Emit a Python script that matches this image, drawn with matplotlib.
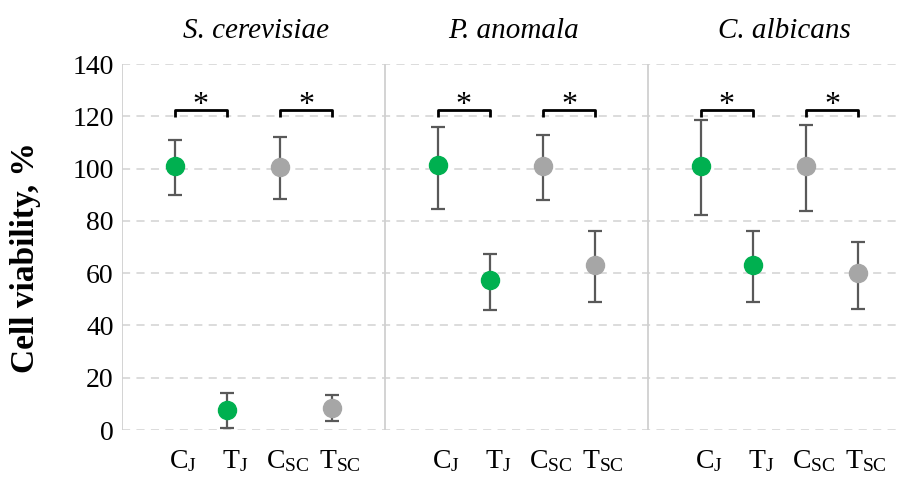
import matplotlib
matplotlib.use("Agg")
import matplotlib.pyplot as plt
import matplotlib.transforms as mtransforms
import numpy as np

plt.rcParams['font.family'] = ['Liberation Serif', 'DejaVu Serif']
plt.rcParams['mathtext.fontset'] = 'custom'
plt.rcParams['mathtext.rm'] = 'Liberation Serif'
plt.rcParams['mathtext.it'] = 'Liberation Serif:italic'

# ---- data ----
species = ["S. cerevisiae", "P. anomala", "C. albicans"]
categories = [r"$\mathrm{C_J}$", r"$\mathrm{T_J}$", r"$\mathrm{C_{SC}}$", r"$\mathrm{T_{SC}}$"]
# mean values per species: C_J, T_J, C_SC, T_SC
means = [
    [100.8, 7.6, 100.7, 8.4],
    [101.3, 57.4, 100.8, 63.1],
    [101.0, 63.0, 100.8, 60.2],
]
upper = [
    [110.8, 14.0, 112.2, 13.5],
    [116.0, 67.4, 112.9, 76.2],
    [118.5, 76.2, 116.8, 72.0],
]
lower = [
    [89.7, 0.8, 88.5, 3.6],
    [84.6, 45.9, 87.8, 49.1],
    [82.2, 49.1, 83.9, 46.2],
]
colors = ["#00b050", "#00b050", "#a6a6a6", "#a6a6a6"]
bracket_level = 122.5
bracket_leg = 119.6
star_level = 118.4

fig = plt.figure(figsize=(9.02, 4.82), dpi=100)
ax = fig.add_axes([122/902, 52/482, 780/902, 366/482])

panel_w = 5
title_pos = [2.55, 2.45, 2.6]
ax.set_xlim(0, 14.83)
ax.set_ylim(0, 140)

# gridlines
for yv in range(0, 141, 20):
    ax.axhline(yv, color="#d9d9d9", lw=1.3, ls=(0, (4.5, 3.5)), zorder=0)

for s in ax.spines.values():
    s.set_visible(False)
# left axis and separators
for k in range(3):
    ax.axvline(k * panel_w, color="#d0d0d0", lw=1.3, zorder=0.5)

xticks = []
xlabels = []
for k, sp in enumerate(species):
    base = k * panel_w
    xs = base + np.arange(1, 5)
    for i in range(4):
        m = means[k][i]
        ax.errorbar(xs[i], m, yerr=[[m - lower[k][i]], [upper[k][i] - m]],
                    fmt='none', ecolor="#595959", elinewidth=1.6, capsize=5,
                    capthick=1.6, zorder=2)
        ax.plot(xs[i], m, 'o', color=colors[i], markersize=13, zorder=3)
        xticks.append(xs[i])
        xlabels.append(categories[i])
    # significance brackets
    for (a, b) in [(0, 1), (2, 3)]:
        ax.plot([xs[a], xs[a], xs[b], xs[b]],
                [bracket_leg, bracket_level, bracket_level, bracket_leg],
                color="black", lw=2, solid_capstyle='butt', zorder=3)
        ax.text((xs[a] + xs[b]) / 2, star_level, "*", ha='center', va='bottom',
                fontsize=23, color='black')
    ax.text(base + title_pos[k], 1.072, sp, transform=ax.get_xaxis_transform(),
            ha='center', va='baseline', fontsize=21, style='italic')

ax.set_xticks(xticks)
ax.set_xticklabels(xlabels, fontsize=20)
ax.tick_params(axis='x', length=0, pad=13)
offset = mtransforms.ScaledTranslation(8/100, 0, fig.dpi_scale_trans)
for lbl in ax.get_xticklabels():
    lbl.set_transform(lbl.get_transform() + offset)

ax.set_yticks(range(0, 141, 20))
ax.tick_params(axis='y', length=0, pad=6, labelsize=20)
ax.set_ylabel("Cell viability, %", fontsize=24, fontweight='bold', labelpad=10)
ax.yaxis.set_label_coords(-0.104, 0.47)

fig.savefig("out.png", dpi=100)
